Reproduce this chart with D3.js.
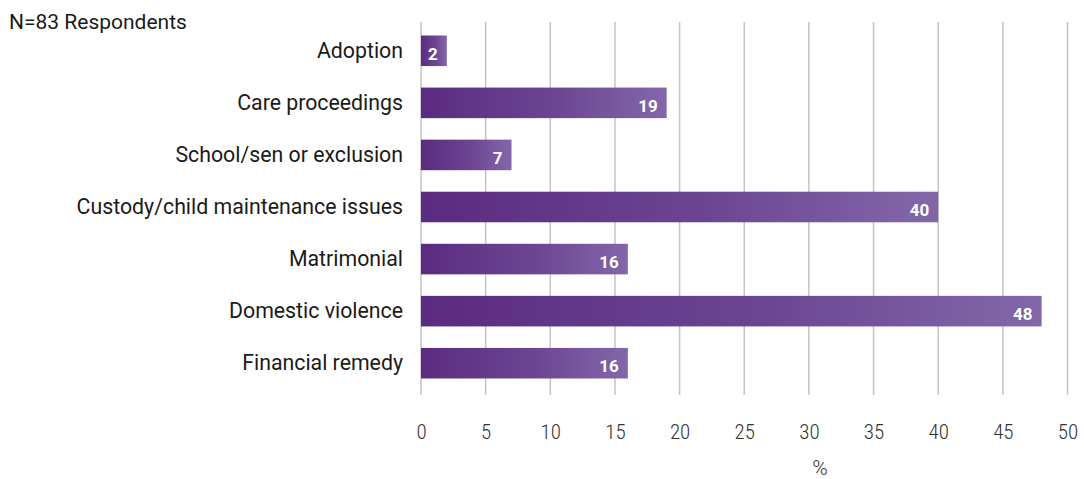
<!DOCTYPE html>
<html>
<head>
<meta charset="utf-8">
<script src="https://cdn.jsdelivr.net/npm/d3@7"></script>
<style>
  html, body { margin: 0; padding: 0; background: #fff; }
  svg { display: block; }
</style>
</head>
<body>
<svg id="chart" width="1084" height="479"></svg>
<script>
// Case types and share of respondents (%)
const categories = [
  "Adoption",
  "Care proceedings",
  "School/sen or exclusion",
  "Custody/child maintenance issues",
  "Matrimonial",
  "Domestic violence",
  "Financial remedy"
];
const values = [2, 19, 7, 40, 16, 48, 16];
const tickValues = [0, 5, 10, 15, 20, 25, 30, 35, 40, 45, 50];
const noteText = "N=83 Respondents";
const axisTitle = "%";

const svg = d3.select("#chart");
const plotLeft = 421, plotRight = 1067.5, gridTop = 22, gridBottom = 395;

const x = d3.scaleLinear().domain([0, 50]).range([plotLeft, plotRight]);
const y = d3.scaleBand().domain(categories).range([24.75, 389.25]).paddingInner(0.413).paddingOuter(0.2065);

// bar gradient: dark purple on the left, lighter on the right
const defs = svg.append("defs");
const grad = defs.append("linearGradient").attr("id", "barGrad")
  .attr("x1", "0%").attr("x2", "100%").attr("y1", "0%").attr("y2", "0%");
grad.append("stop").attr("offset", "0%").attr("stop-color", "#5a2b80");
grad.append("stop").attr("offset", "55%").attr("stop-color", "#6c4592");
grad.append("stop").attr("offset", "100%").attr("stop-color", "#8367a9");

// vertical gridlines
svg.append("g").selectAll("line").data(tickValues).join("line")
  .attr("x1", d => x(d)).attr("x2", d => x(d))
  .attr("y1", gridTop).attr("y2", gridBottom)
  .attr("stroke", "#c4c4c4").attr("stroke-width", 1.5);

// x axis tick labels
const xAxis = d3.axisBottom(x).tickValues(tickValues).tickSize(0).tickPadding(0);
const gx = svg.append("g").attr("transform", `translate(0,${438.5})`).call(xAxis);
gx.select(".domain").remove();
gx.selectAll("text")
  .attr("dy", 0).attr("y", 0)
  .attr("font-family", "Roboto").attr("font-weight", 300)
  .attr("font-size", 21).attr("fill", "#333").style("font-stretch", "condensed");

// bars
svg.append("g").selectAll("rect").data(values).join("rect")
  .attr("x", x(0))
  .attr("y", (d, i) => y(categories[i]))
  .attr("width", d => x(d) - x(0))
  .attr("height", y.bandwidth())
  .attr("fill", "url(#barGrad)");

// value labels inside bar ends
svg.append("g").selectAll("text").data(values).join("text")
  .attr("x", d => x(d) - 9)
  .attr("y", (d, i) => y(categories[i]) + y.bandwidth() / 2 + 9)
  .attr("text-anchor", "end")
  .attr("font-family", "Roboto").attr("font-weight", 700)
  .attr("font-size", 17).attr("fill", "#fff")
  .text(d => d);

// category labels
const yAxis = d3.axisLeft(y).tickSize(0).tickPadding(18);
const gy = svg.append("g").attr("transform", `translate(${plotLeft},0)`).call(yAxis);
gy.select(".domain").remove();
gy.selectAll("text")
  .attr("dy", "0.34em")
  .attr("font-family", "Roboto").attr("font-size", 21.3).attr("fill", "#1a1a1a");

// note and axis title
svg.append("text").attr("x", 9).attr("y", 29)
  .attr("font-family", "Roboto").attr("font-size", 21).attr("fill", "#1a1a1a")
  .text(noteText);
svg.append("text").attr("x", 820).attr("y", 475).attr("text-anchor", "middle")
  .attr("font-family", "Roboto").attr("font-weight", 300)
  .attr("font-size", 21).attr("fill", "#333")
  .text(axisTitle);
</script>
</body>
</html>
